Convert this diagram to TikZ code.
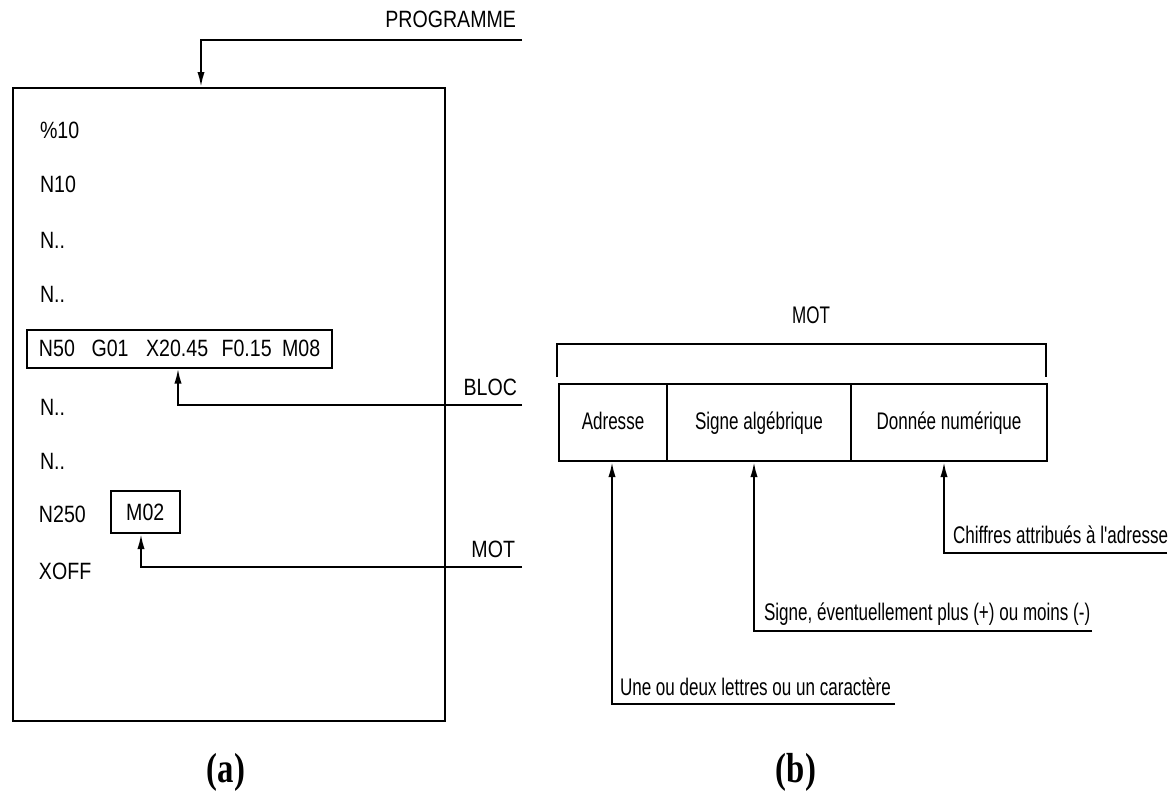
\documentclass[tikz,border=0pt]{standalone}
\usepackage{fontspec}
\setmainfont{Liberation Sans}
\newfontfamily\leftfont[FakeStretch=0.83]{Liberation Sans}
\newfontfamily\rightfont[FakeStretch=0.71]{Liberation Sans}
\newfontfamily\capfont[FakeStretch=0.78,BoldFont={Liberation Serif Bold}]{Liberation Serif}
\usetikzlibrary{arrows.meta}
\begin{document}
\begin{tikzpicture}[x=0.5pt,y=-0.5pt,
  line width=1pt,
  arr/.style={-{Latex[length=7.5pt,width=3.6pt]}},
  ltxt/.style={font=\leftfont\fontsize{11.8}{14}\selectfont, inner sep=0pt},
  rtxt/.style={font=\rightfont\fontsize{12}{14}\selectfont, inner sep=0pt},
  captxt/.style={font=\capfont\bfseries\fontsize{21}{23}\selectfont, inner sep=0pt},
  frame/.style={draw, line width=1pt, inner sep=0pt},
  cell/.style={frame, rtxt, anchor=north west, minimum height=38.5pt, text height=9.25pt, text depth=2pt}]
\useasboundingbox (0,0) rectangle (1176,793);
\fill[white] (0,0) rectangle (1176,793);

% ---------- (a) ----------
\node[frame, anchor=north west, minimum width=216pt, minimum height=316.5pt] (prog) at (12,87) {};
\node[ltxt, anchor=west] (l1) at (39,130) {\%10};
\node[ltxt, anchor=west] (l2) at (39,184) {N10};
\node[ltxt, anchor=west] (l3) at (39,240) {N..};
\node[ltxt, anchor=west] (l4) at (39,294) {N..};
\node[frame, ltxt, anchor=north west, minimum width=152.5pt, minimum height=18.75pt,
      inner xsep=6pt] (bloc) at (26,329)
      {\makebox[140.5pt][l]{N50\hspace{8.3pt}G01\hspace{8.8pt}X20.45\hspace{6.7pt}F0.15\hspace{5.2pt}M08}};
\node[ltxt, anchor=west] (l6) at (39,407) {N..};
\node[ltxt, anchor=west] (l7) at (39,461) {N..};
\node[ltxt, anchor=west] (l8) at (38,514) {N250};
\node[frame, ltxt, anchor=north west, minimum width=34.75pt, minimum height=21pt] (mot) at (109.5,490) {M02};
\node[ltxt, anchor=west] (l9) at (38,571) {XOFF};

\node[ltxt, anchor=east] (tprog) at (517,19) {PROGRAMME};
\node[ltxt, anchor=east] (tbloc) at (518,387) {BLOC};
\node[ltxt, anchor=east] (tmot) at (516,549) {MOT};

\coordinate (pe) at (522,40);
\coordinate (pb) at (201,40);
\draw[arr] (pe) -- (pb) -- (prog.north -| pb);

\coordinate (be) at (522,405);
\coordinate (bb) at (178,405);
\draw[arr] (be) -- (bb) -- (bloc.south -| bb);

\coordinate (me) at (522,567);
\coordinate (mb) at (141,567);
\draw[arr] (me) -- (mb) -- (mot.south -| mb);

\node[captxt] (capa) at (226,772) {(a)};

% ---------- (b) ----------
\node[rtxt] (tmot2) at (811,315) {MOT};
\coordinate (br1) at (557,377);
\coordinate (br2) at (557,344);
\coordinate (br3) at (1046,344);
\coordinate (br4) at (1046,377);
\draw (br1) -- (br2) -- (br3) -- (br4);

\node[cell, minimum width=54pt] (adr) at (558,383) {Adresse};
\node[cell, minimum width=92pt] (sig) at (666,383) {Signe algébrique};
\node[cell, minimum width=98pt] (don) at (850,383) {Donnée numérique};

\coordinate (a1) at (612,704);
\coordinate (a2) at (895,704);
\node[rtxt, anchor=base west] (t1) at (619,695) {Une ou deux lettres ou un caractère};
\draw[arr] (a2) -- (a1) -- (adr.south -| a1);

\coordinate (s1) at (754,631);
\coordinate (s2) at (1092,631);
\node[rtxt, anchor=base west] (t2) at (763,620) {Signe, éventuellement plus (+) ou moins (-)};
\draw[arr] (s2) -- (s1) -- (sig.south -| s1);

\coordinate (c1) at (944,553);
\coordinate (c2) at (1167,553);
\node[rtxt, anchor=base west] (t3) at (952,543) {Chiffres attribués à l'adresse};
\draw[arr] (c2) -- (c1) -- (don.south -| c1);

\node[captxt] (capb) at (796,772) {(b)};
\end{tikzpicture}
\end{document}
